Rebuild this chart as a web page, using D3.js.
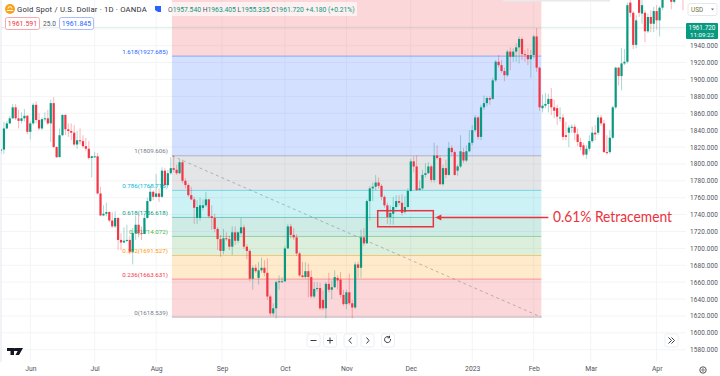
<!DOCTYPE html>
<html>
<head>
<meta charset="utf-8">
<title>Gold Spot / U.S. Dollar</title>
<script src="https://cdn.jsdelivr.net/npm/d3@7"></script>
<style>
    html, body { margin: 0; padding: 0; background: #fff; }
    svg { display: block; font-family: Roboto, "Liberation Sans", sans-serif; }
</style>
</head>
<body>
<div id="chart"></div>
<script>
// daily candles
var opens = [
    1816,1817,1842,1848,1854,1867,1854,1851,1854,1857,
    1838,1848,1870,1852,1842,1853,1854,1848,1872,1820,
    1808,1834,1858,1841,1839,1837,1823,1828,1827,1821,
    1818,1807,1809,1809,1765,1739,1741,1743,1733,1726,
    1736,1710,1707,1709,1710,1696,1718,1728,1718,1717,
    1736,1756,1767,1761,1765,1761,1792,1775,1789,1795,
    1793,1789,1802,1780,1775,1763,1758,1736,1736,1748,
    1751,1758,1738,1736,1723,1711,1697,1712,1711,1702,
    1719,1709,1718,1725,1702,1697,1664,1677,1665,1674,
    1677,1671,1643,1623,1629,1660,1661,1661,1700,1726,
    1716,1713,1694,1668,1666,1673,1666,1643,1652,1653,
    1639,1629,1658,1651,1654,1665,1663,1645,1634,1648,
    1635,1630,1681,1677,1713,1706,1756,1771,1773,1778,
    1774,1761,1751,1737,1741,1749,1756,1754,1743,1749,
    1768,1803,1797,1769,1771,1787,1789,1797,1781,1810,
    1807,1776,1795,1787,1819,1814,1792,1797,1814,1804,
    1815,1825,1840,1855,1832,1867,1872,1878,1877,1899,
    1921,1917,1910,1905,1933,1927,1933,1938,1948,1930,
    1929,1924,1929,1951,1914,1866,1869,1871,1877,1867,
    1866,1854,1855,1834,1837,1843,1844,1835,1826,1822,
    1811,1818,1827,1837,1837,1855,1848,1814,1814,1831,
    1867,1914,1904,1919,1921,1991,1979,1941,2000,1978,
    1979,1957,1974,1966,1981,1970,1985,1996,2001,1998,
    1992,1998,2004,2003
];
var closes = [
    1817,1842,1848,1854,1867,1854,1851,1854,1857,1838,
    1848,1870,1852,1842,1853,1854,1848,1872,1820,1808,
    1834,1858,1841,1839,1837,1823,1828,1827,1821,1818,
    1807,1809,1809,1765,1739,1741,1743,1733,1726,1736,
    1710,1707,1709,1710,1696,1718,1728,1718,1717,1736,
    1756,1767,1761,1765,1761,1792,1775,1789,1795,1793,
    1789,1802,1780,1775,1763,1758,1748,1749,1751,1751,
    1758,1738,1736,1723,1711,1697,1712,1711,1702,1719,
    1709,1719,1725,1702,1697,1664,1677,1673,1674,1677,
    1671,1643,1623,1629,1660,1661,1661,1700,1726,1716,
    1713,1694,1668,1666,1673,1666,1643,1652,1653,1629,
    1629,1658,1651,1654,1666,1662,1645,1634,1648,1635,
    1630,1681,1677,1713,1706,1756,1771,1773,1778,1774,
    1761,1751,1737,1742,1749,1756,1754,1742,1749,1768,
    1803,1797,1769,1771,1787,1789,1797,1781,1810,1807,
    1776,1795,1787,1819,1814,1787,1797,1815,1804,1815,
    1825,1840,1855,1832,1867,1872,1878,1876,1899,1921,
    1917,1910,1905,1933,1927,1933,1938,1948,1930,1929,
    1924,1929,1951,1914,1867,1869,1871,1877,1867,1863,
    1856,1855,1832,1832,1843,1844,1837,1826,1820,1811,
    1818,1827,1837,1835,1855,1848,1814,1813,1831,1867,
    1914,1904,1919,1921,1988,1979,1941,1970,1979,1988,
    1957,1974,1966,1981,1970,1985,1996,2001,2004,1992,
    1998,2004,2008,2001
];
var highs = [
    1818,1850,1851,1857,1871,1871,1864,1861,1865,1858,
    1851,1872,1874,1860,1855,1861,1864,1876,1879,1821,
    1842,1859,1859,1848,1848,1846,1839,1842,1834,1831,
    1827,1810,1814,1813,1773,1751,1754,1744,1743,1744,
    1737,1718,1725,1728,1715,1724,1739,1739,1726,1741,
    1760,1774,1769,1788,1771,1796,1795,1793,1808,1810,
    1799,1805,1805,1783,1777,1773,1761,1757,1760,1758,
    1767,1759,1751,1741,1725,1716,1723,1719,1715,1726,
    1726,1720,1736,1728,1705,1699,1680,1681,1684,1689,
    1686,1688,1645,1635,1662,1668,1666,1703,1729,1729,
    1724,1717,1696,1684,1684,1682,1674,1660,1660,1659,
    1650,1660,1671,1662,1674,1668,1672,1651,1651,1670,
    1639,1684,1684,1722,1724,1758,1774,1778,1787,1784,
    1776,1763,1754,1751,1761,1763,1763,1764,1762,1771,
    1806,1809,1810,1780,1793,1801,1802,1799,1825,1822,
    1810,1799,1805,1826,1822,1816,1799,1834,1819,1822,
    1840,1846,1858,1857,1870,1881,1880,1880,1902,1923,
    1929,1923,1914,1935,1938,1937,1943,1951,1950,1935,
    1937,1935,1953,1961,1915,1882,1884,1883,1890,1876,
    1870,1867,1859,1850,1846,1847,1847,1842,1831,1825,
    1822,1834,1844,1846,1858,1858,1852,1834,1840,1869,
    1915,1915,1937,1936,1991,1999,1981,1976,2004,1994,
    1982,1978,1982,1986,1988,1987,2000,2005,2008,2004,
    2001,2008,2014,2006
];
var lows = [
    1812,1812,1841,1847,1853,1852,1842,1848,1850,1835,
    1829,1846,1848,1840,1840,1850,1846,1826,1819,1807,
    1808,1833,1834,1832,1828,1821,1818,1823,1819,1815,
    1805,1784,1807,1764,1738,1738,1738,1731,1724,1724,
    1698,1698,1706,1707,1693,1681,1710,1713,1710,1717,
    1735,1755,1757,1760,1755,1760,1773,1774,1787,1790,
    1787,1788,1777,1771,1761,1757,1729,1729,1733,1745,
    1749,1736,1722,1719,1698,1690,1693,1709,1698,1692,
    1704,1706,1716,1699,1687,1661,1651,1671,1657,1671,
    1667,1639,1620,1620,1617,1651,1660,1660,1699,1712,
    1710,1691,1666,1665,1664,1642,1641,1641,1649,1627,
    1627,1617,1648,1640,1653,1651,1642,1632,1628,1633,
    1617,1628,1665,1665,1703,1705,1733,1756,1769,1771,
    1757,1748,1729,1728,1728,1747,1751,1739,1741,1747,
    1767,1790,1768,1769,1769,1784,1788,1778,1778,1805,
    1775,1774,1783,1786,1810,1786,1786,1795,1801,1802,
    1814,1822,1838,1829,1828,1864,1868,1870,1876,1897,
    1914,1908,1898,1903,1911,1921,1921,1919,1923,1921,
    1917,1902,1925,1909,1863,1861,1866,1861,1858,1854,
    1846,1850,1828,1828,1820,1837,1828,1821,1816,1809,
    1806,1815,1825,1828,1834,1845,1813,1811,1812,1829,
    1865,1893,1887,1917,1919,1974,1936,1937,1974,1966,
    1944,1955,1956,1956,1959,1951,1982,1994,1999,1983,
    1990,1996,2001,1982
];

// time axis
var monthLabels = ["Jun", "Jul", "Aug", "Sep", "Oct", "Nov", "Dec", "2023", "Feb", "Mar", "Apr"];
var monthIndex = [10, 32, 53, 75.5, 97, 118, 140, 161, 182, 201.5, 224];

// price axis
var priceTicks = [1580,1600,1620,1640,1660,1680,1700,1720,1740,1760,1780,1800,1820,1840,1860,1880,1900,1920,1940,1960];

// fibonacci retracement
var fibRatios = [0, 0.236, 0.382, 0.5, 0.618, 0.786, 1, 1.618, 2.618];
var fibPrices = [1618.539, 1663.631, 1691.527, 1714.072, 1736.618, 1768.716, 1809.606, 1927.685, 2118.754];
var fibColors = ["#787b86", "#f23645", "#ff9800", "#4caf50", "#089981", "#00bcd4", "#787b86", "#2962ff", "#f23645"];
var fibStart = 58.4;
var fibEnd = 184.6;
var lastPrice = 1961.72;

function init () {

    var w = 720;
    var h = 376;

    var xScale = d3.scaleLinear().domain([0, closes.length - 1]).range([1, 683]);
    var yScale = d3.scaleLinear().domain([1580, 1940]).range([349.7, 45.7]);

    var upColor = "#089981";
    var downColor = "#f23645";
    var gridColor = "#f3f4f6";

    var svg = d3.select("#chart")
                .append("svg")
                .attr("width", w)
                .attr("height", h);

    svg.append("clipPath").attr("id", "pane")
        .append("rect").attr("x", 1).attr("y", 0).attr("width", 685).attr("height", 362);

    // grid
    var grid = svg.append("g").attr("clip-path", "url(#pane)");
    grid.selectAll("line.h").data(priceTicks).enter().append("line")
        .attr("class", "h")
        .attr("x1", 0).attr("x2", 686)
        .attr("y1", function(d) { return yScale(d); })
        .attr("y2", function(d) { return yScale(d); })
        .attr("stroke", gridColor);
    grid.selectAll("line.v").data(monthIndex).enter().append("line")
        .attr("class", "v")
        .attr("y1", 0).attr("y2", 362)
        .attr("x1", function(d) { return xScale(d); })
        .attr("x2", function(d) { return xScale(d); })
        .attr("stroke", gridColor);
    svg.append("line").attr("x1", 1).attr("x2", 1).attr("y1", 0).attr("y2", 362).attr("stroke", "#e4e6ec");

    // fib zones, each takes the colour of the level on its upper edge
    var fib = svg.append("g").attr("clip-path", "url(#pane)");
    var x0 = xScale(fibStart);
    var x1 = xScale(fibEnd);
    fib.selectAll("rect").data(fibPrices.slice(0, -1)).enter().append("rect")
        .attr("x", x0)
        .attr("width", x1 - x0)
        .attr("y", function(d, i) { return yScale(fibPrices[i + 1]); })
        .attr("height", function(d, i) { return yScale(d) - yScale(fibPrices[i + 1]); })
        .attr("fill", function(d, i) { return fibColors[i + 1]; })
        .attr("fill-opacity", 0.2);
    fib.selectAll("line").data(fibPrices).enter().append("line")
        .attr("x1", x0).attr("x2", x1)
        .attr("y1", function(d) { return yScale(d); })
        .attr("y2", function(d) { return yScale(d); })
        .attr("stroke", function(d, i) { return fibColors[i]; })
        .attr("stroke-opacity", 0.45)
        .attr("stroke-width", 1);
    // the 2.618 level sits above the pane so it gets no label
    fib.selectAll("text").data(fibPrices.slice(0, -1)).enter().append("text")
        .attr("x", x0 - 4)
        .attr("y", function(d) { return yScale(d) - 2.5; })
        .attr("text-anchor", "end")
        .attr("font-size", 6.2)
        .attr("fill", function(d, i) { return fibColors[i]; })
        .text(function(d, i) { return fibRatios[i] + "(" + d.toFixed(3) + ")"; });

    // dashed trend line between the two anchors
    fib.append("line")
        .attr("x1", x0).attr("x2", x1)
        .attr("y1", yScale(fibPrices[6])).attr("y2", yScale(fibPrices[0]))
        .attr("stroke", "#787b86")
        .attr("stroke-opacity", 0.5)
        .attr("stroke-dasharray", "3,3");

    // last price line
    fib.append("line")
        .attr("x1", 0).attr("x2", 686)
        .attr("y1", yScale(lastPrice)).attr("y2", yScale(lastPrice))
        .attr("stroke", upColor)
        .attr("stroke-opacity", 0.14);

    // candles
    var idx = d3.range(closes.length);
    var candles = svg.append("g").attr("clip-path", "url(#pane)");
    candles.selectAll("line").data(idx).enter().append("line")
        .attr("x1", function(d) { return xScale(d); })
        .attr("x2", function(d) { return xScale(d); })
        .attr("y1", function(d) { return yScale(highs[d]); })
        .attr("y2", function(d) { return yScale(lows[d]); })
        .attr("stroke", function(d) { return closes[d] >= opens[d] ? upColor : downColor; })
        .attr("stroke-opacity", 0.36)
        .attr("stroke-width", 1);
    candles.selectAll("rect").data(idx).enter().append("rect")
        .attr("x", function(d) { return xScale(d) - 1.1; })
        .attr("width", 2.2)
        .attr("y", function(d) { return yScale(Math.max(opens[d], closes[d])); })
        .attr("height", function(d) { return Math.max(1, Math.abs(yScale(opens[d]) - yScale(closes[d]))); })
        .attr("fill", function(d) { return closes[d] >= opens[d] ? upColor : downColor; });

    // axes
    var yAxis = d3.axisRight(yScale)
                .tickValues(priceTicks.slice(0, -1))
                .tickSize(0)
                .tickFormat(d3.format(".3f"));
    var yG = svg.append("g").attr("transform", "translate(690, 0)").call(yAxis);
    yG.select(".domain").remove();
    yG.selectAll("text").attr("x", 0).attr("font-size", 6.4).attr("fill", "#50535e")
        .attr("font-family", "Roboto").style("letter-spacing", "0.15px");

    var xAxis = d3.axisBottom(xScale)
                .tickValues(monthIndex)
                .tickSize(0)
                .tickFormat(function(d, i) { return monthLabels[i]; });
    var xG = svg.append("g").attr("transform", "translate(0, 366)").call(xAxis);
    xG.select(".domain").remove();
    xG.selectAll("text").attr("y", 0).attr("font-size", 6.8).attr("fill", "#50535e")
        .attr("font-family", "Roboto");

    // red call out
    var red = "#ea3340";
    var boxX0 = xScale(128.7);
    var boxX1 = xScale(147.7);
    svg.append("rect")
        .attr("x", boxX0).attr("y", yScale(1744.6))
        .attr("width", boxX1 - boxX0)
        .attr("height", yScale(1725.6) - yScale(1744.6))
        .attr("fill", "none").attr("stroke", red).attr("stroke-width", 1.5);
    var arrowY = yScale(fibPrices[4]);
    svg.append("line")
        .attr("x1", xScale(149.5)).attr("x2", xScale(187))
        .attr("y1", arrowY).attr("y2", arrowY)
        .attr("stroke", red).attr("stroke-width", 1.5);
    svg.append("path")
        .attr("d", d3.line()([[boxX1 + 2, arrowY], [boxX1 + 8, arrowY - 3], [boxX1 + 8, arrowY + 3]]) + "Z")
        .attr("fill", red);
    svg.append("text")
        .attr("x", xScale(188.6)).attr("y", arrowY + 5)
        .attr("font-family", "Lato")
        .attr("font-size", 15)
        .attr("textLength", 119)
        .attr("lengthAdjust", "spacingAndGlyphs")
        .attr("fill", red)
        .text("0.61% Retracement");

    // header
    svg.append("rect").attr("x", 165).attr("y", 2).attr("width", 192).attr("height", 14)
        .attr("fill", "#fff").attr("fill-opacity", 0.6);
    svg.append("circle").attr("cx", 10).attr("cy", 9).attr("r", 5).attr("fill", "#f7a21b");
    svg.append("path").attr("d", "M6.8 10.5h6.4M8 8.6a2 2 0 0 1 4 0").attr("stroke", "#fff").attr("stroke-width", 0.9).attr("fill", "none");
    svg.append("text").attr("x", 17).attr("y", 12).attr("font-size", 7.7).attr("fill", "#2e3038")
        .style("letter-spacing", "0.2px")
        .text("Gold Spot / U.S. Dollar · 1D · OANDA");
    svg.append("path").attr("d", "M155 6h6v6h-3l-3 -2z").attr("fill", "#2962ff");

    var legend = svg.append("text").attr("x", 168).attr("y", 12).attr("font-size", 6.75).attr("fill", upColor);
    [["O", "1957.540"], ["H", "1963.405"], ["L", "1955.335"], ["C", "1961.720"]].forEach(function(p) {
        legend.append("tspan").attr("fill", "#50535e").text(p[0]);
        legend.append("tspan").text(p[1] + " ");
    });
    legend.append("tspan").text("+4.180 (+0.21%)");

    svg.append("rect").attr("x", 5.5).attr("y", 17.5).attr("width", 34).attr("height", 12).attr("rx", 2)
        .attr("fill", "#fff").attr("stroke", "#f7a8ae");
    svg.append("text").attr("x", 22.5).attr("y", 26).attr("text-anchor", "middle").attr("font-size", 7).attr("fill", "#f23645").text("1961.591");
    svg.append("text").attr("x", 49.5).attr("y", 26).attr("text-anchor", "middle").attr("font-size", 6.6).attr("fill", "#50535e").text("25.0");
    svg.append("rect").attr("x", 59.5).attr("y", 17.5).attr("width", 34).attr("height", 12).attr("rx", 2)
        .attr("fill", "#fff").attr("stroke", "#a9bdf9");
    svg.append("text").attr("x", 76.5).attr("y", 26).attr("text-anchor", "middle").attr("font-size", 7).attr("fill", "#2962ff").text("1961.845");

    // currency button and price badge
    svg.append("rect").attr("x", 688).attr("y", 3.5).attr("width", 29).attr("height", 12).attr("rx", 2)
        .attr("fill", "#fff").attr("stroke", "#e6e8ee");
    svg.append("text").attr("x", 691).attr("y", 12).attr("font-size", 6.4).attr("fill", "#6f6f3a").text("USD");
    svg.append("path").attr("d", "M711 8.5h3l-1.5 2z").attr("fill", "#777");
    svg.append("rect").attr("x", 686).attr("y", 23).attr("width", 32).attr("height", 16).attr("rx", 1).attr("fill", upColor);
    svg.append("text").attr("x", 702).attr("y", 30).attr("text-anchor", "middle").attr("font-size", 6.4).attr("fill", "#fff").text(d3.format(".3f")(lastPrice));
    svg.append("text").attr("x", 702).attr("y", 37).attr("text-anchor", "middle").attr("font-size", 6.2).attr("fill", "#fff").text("11:09:22");

    // floating buttons
    var buttons = svg.append("g");
    [[307, "M310.5 340.5h6"], [323.5, "M327 340.5h6M330 337.5v6"], [344, "M351.5 337.5l-2.5 3l2.5 3"],
     [361, "M366.5 337.5l2.5 3l-2.5 3"], [381.5, "M390.5 339a3 3 0 1 1 -1 -1.7M389.5 335.8v2h-2"], [665, "M668.5 337.5l3 3l-3 3M671.5 337.5l3 3l-3 3"]].forEach(function(b) {
        buttons.append("rect").attr("x", b[0]).attr("y", 334).attr("width", 13).attr("height", 13).attr("rx", 2)
            .attr("fill", "#fff").attr("stroke", "#eceef2");
        buttons.append("path").attr("d", b[1]).attr("fill", "none").attr("stroke", "#3a3d46").attr("stroke-width", 1);
    });

    // logo and settings
    svg.append("path").attr("d", "M7 348h7v7h-3.5v-4h-3.5zM15 348h8l-4 7h-3.5l2.2 -4h-2.7a1.4 1.4 0 0 1 0 -3z").attr("fill", "#131722");
    svg.append("circle").attr("cx", 703).attr("cy", 370).attr("r", 3.2).attr("fill", "none").attr("stroke", "#555").attr("stroke-width", 1);
    svg.append("circle").attr("cx", 703).attr("cy", 370).attr("r", 1.2).attr("fill", "none").attr("stroke", "#555").attr("stroke-width", 0.8);
    svg.append("rect").attr("x", 503).attr("y", 0).attr("width", 107).attr("height", 1.5).attr("fill", "#e9e9ec");
}
window.onload = init;
</script>
</body>
</html>
